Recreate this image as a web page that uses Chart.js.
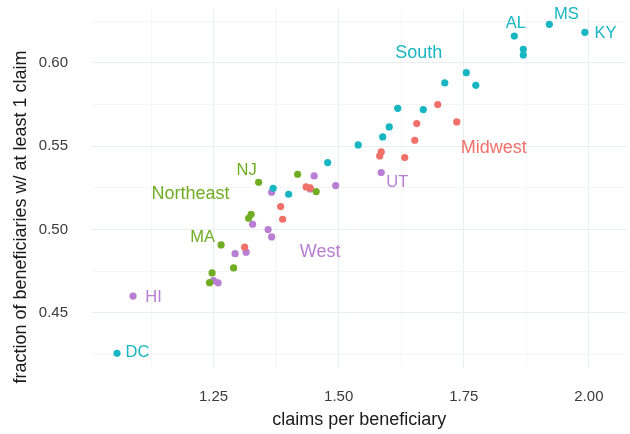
<!DOCTYPE html>
<html>
<head>
<meta charset="utf-8">
<script src="https://cdn.jsdelivr.net/npm/chart.js@4/dist/chart.umd.min.js"></script>
<style>
  html, body { margin: 0; padding: 0; background: #fff; }
  #wrap { width: 630px; height: 434px; }
</style>
</head>
<body>
<div id="wrap"><canvas id="chart" width="630" height="434"></canvas></div>
<script>
// values
const southX = [1.057, 1.369, 1.400, 1.478, 1.539, 1.588, 1.601, 1.618, 1.669, 1.712, 1.755, 1.774, 1.851, 1.869, 1.869, 1.921, 1.992];
const southY = [0.4257, 0.5248, 0.5212, 0.5402, 0.5508, 0.5556, 0.5616, 0.5728, 0.5720, 0.5880, 0.5942, 0.5866, 0.6162, 0.6082, 0.6048, 0.6232, 0.6184];

const midwestX = [1.312, 1.384, 1.388, 1.435, 1.443, 1.582, 1.585, 1.632, 1.652, 1.656, 1.698, 1.736];
const midwestY = [0.4894, 0.5138, 0.5062, 0.5256, 0.5250, 0.5442, 0.5466, 0.5432, 0.5536, 0.5636, 0.5750, 0.5646];

const northeastX = [1.242, 1.247, 1.265, 1.290, 1.320, 1.325, 1.340, 1.418, 1.455];
const northeastY = [0.4681, 0.4740, 0.4908, 0.4770, 0.5068, 0.5092, 0.5284, 0.5332, 0.5228];

const westX = [1.089, 1.250, 1.259, 1.293, 1.315, 1.328, 1.359, 1.366, 1.366, 1.443, 1.451, 1.494, 1.585];
const westY = [0.4601, 0.4693, 0.4680, 0.4855, 0.4864, 0.5032, 0.5000, 0.4956, 0.5224, 0.5244, 0.5322, 0.5264, 0.5342];

const xTicks = [1.25, 1.5, 1.75, 2.0];
const xMinorTicks = [1.125, 1.375, 1.625, 1.875];
const yTicks = [0.45, 0.5, 0.55, 0.6];
const yMinorTicks = [0.425, 0.475, 0.525, 0.575, 0.625];

const regionNames = ["South", "Midwest", "Northeast", "West"];
const regionColors = ["#17b6c2", "#f1716a", "#70ad23", "#b87ed4"];

// text labels in data coordinates
const regionLabels = [
  { text: "South", x: 1.660, y: 0.606, c: 0 },
  { text: "Midwest", x: 1.810, y: 0.549, c: 1 },
  { text: "Northeast", x: 1.204, y: 0.5214, c: 2 },
  { text: "West", x: 1.463, y: 0.4866, c: 3 }
];
const stateLabels = [
  { text: "DC", x: 1.098, y: 0.426, c: 0 },
  { text: "AL", x: 1.854, y: 0.624, c: 0 },
  { text: "MS", x: 1.955, y: 0.6294, c: 0 },
  { text: "KY", x: 2.033, y: 0.618, c: 0 },
  { text: "NJ", x: 1.316, y: 0.5352, c: 2 },
  { text: "MA", x: 1.228, y: 0.495, c: 2 },
  { text: "HI", x: 1.130, y: 0.4595, c: 3 },
  { text: "UT", x: 1.617, y: 0.528, c: 3 }
];

const FONT = "'Liberation Sans', Arial, Helvetica, sans-serif";

function points(xs, ys) {
  return xs.map((x, i) => ({ x: x, y: ys[i] }));
}

const seriesX = [southX, midwestX, northeastX, westX];
const seriesY = [southY, midwestY, northeastY, westY];

const datasets = regionNames.map((name, i) => ({
  label: name,
  data: points(seriesX[i], seriesY[i]),
  backgroundColor: regionColors[i],
  borderColor: regionColors[i],
  borderWidth: 0,
  pointRadius: 3.6,
  pointHoverRadius: 3.6
}));

function isIn(list, v) {
  return list.some((t) => Math.abs(t - v) < 1e-9);
}

function gridColor(majors) {
  return (c) => (c.tick && isIn(majors, c.tick.value) ? "#e9eeee" : "#f4f6f6");
}

const textLabels = {
  id: "textLabels",
  afterDatasetsDraw(chart) {
    const { ctx, scales } = chart;
    ctx.save();
    ctx.textAlign = "center";
    ctx.textBaseline = "middle";
    ctx.font = "18px " + FONT;
    regionLabels.forEach((l) => {
      ctx.fillStyle = regionColors[l.c];
      ctx.fillText(l.text, scales.x.getPixelForValue(l.x), scales.y.getPixelForValue(l.y));
    });
    ctx.font = "16.5px " + FONT;
    stateLabels.forEach((l) => {
      ctx.fillStyle = regionColors[l.c];
      ctx.fillText(l.text, scales.x.getPixelForValue(l.x), scales.y.getPixelForValue(l.y));
    });
    // y axis title (sits a bit below the panel centre in the original)
    ctx.translate(21, 217);
    ctx.rotate(-Math.PI / 2);
    ctx.fillStyle = "#1a1a1a";
    ctx.font = "18px " + FONT;
    ctx.fillText("fraction of beneficiaries w/ at least 1 claim", 0, 0);
    ctx.restore();
  }
};

new Chart(document.getElementById("chart").getContext("2d"), {
  type: "scatter",
  data: { datasets: datasets },
  options: {
    responsive: false,
    animation: false,
    layout: { padding: { top: 9, right: 2, left: 0, bottom: 0 } },
    plugins: {
      legend: { display: false },
      tooltip: { enabled: false }
    },
    scales: {
      x: {
        type: "linear",
        min: 1.007,
        max: 2.075,
        afterBuildTicks: (scale) => {
          scale.ticks = xMinorTicks.concat(xTicks).sort((a, b) => a - b).map((v) => ({ value: v }));
        },
        afterFit: (scale) => {
          scale.height = 66;
          scale.paddingLeft = 0;
          scale.paddingRight = 0;
        },
        border: { display: false },
        grid: { color: gridColor(xTicks), lineWidth: 1, drawTicks: false },
        ticks: {
          padding: 20,
          color: "#3b3b3b",
          font: { family: FONT, size: 15 },
          callback: (v) => (isIn(xTicks, v) ? v.toFixed(2) : "")
        },
        title: {
          display: true,
          text: "claims per beneficiary",
          color: "#1a1a1a",
          font: { family: FONT, size: 18 },
          padding: { top: 0, bottom: 3 }
        }
      },
      y: {
        type: "linear",
        min: 0.4169,
        max: 0.6324,
        afterBuildTicks: (scale) => {
          scale.ticks = yMinorTicks.concat(yTicks).sort((a, b) => a - b).map((v) => ({ value: v }));
        },
        afterFit: (scale) => {
          scale.width = 92;
          scale.paddingTop = 0;
          scale.paddingBottom = 0;
        },
        border: { display: false },
        grid: { color: gridColor(yTicks), lineWidth: 1, drawTicks: false },
        ticks: {
          padding: 24,
          color: "#3b3b3b",
          font: { family: FONT, size: 15 },
          callback: (v) => (isIn(yTicks, v) ? v.toFixed(2) : "")
        }
      }
    }
  },
  plugins: [textLabels]
});
</script>
</body>
</html>
